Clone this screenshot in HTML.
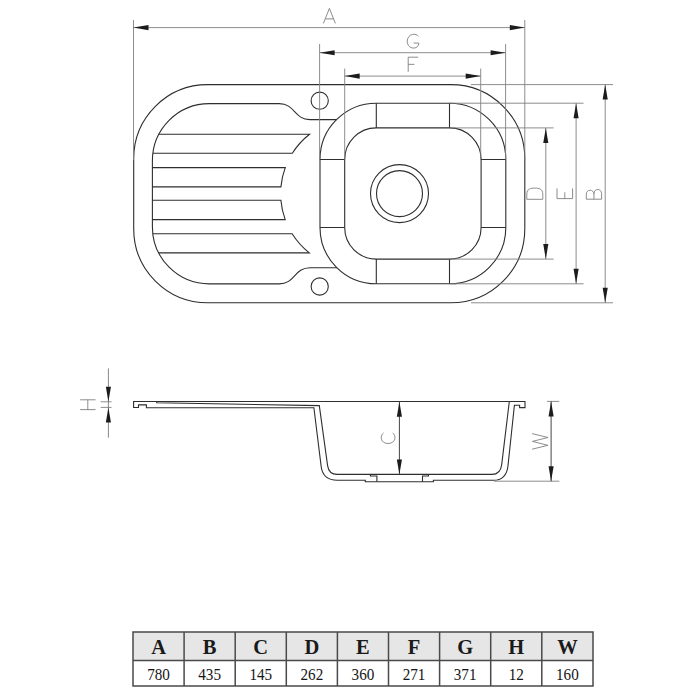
<!DOCTYPE html>
<html><head><meta charset="utf-8"><style>
html,body{margin:0;padding:0;background:#fff;width:700px;height:700px;overflow:hidden}
svg{display:block}
</style></head><body>
<svg width="700" height="700" viewBox="0 0 700 700">
<rect width="700" height="700" fill="#fff"/>
<path d="M207.7,84.6 L450.8,84.6 A74.0,74.0 0 0 1 524.8,158.6 L524.8,228.8 A74.0,74.0 0 0 1 450.8,302.8 L207.7,302.8 A74.0,74.0 0 0 1 133.7,228.8 L133.7,158.6 A74.0,74.0 0 0 1 207.7,84.6 Z" stroke="#2e2e2e" stroke-width="1.1" fill="none" />
<path d="M376.3,103.2 L449.5,103.2 A56.3,56.3 0 0 1 505.8,159.5 L505.8,227.5 A56.3,56.3 0 0 1 449.5,283.8 L376.3,283.8 A56.3,56.3 0 0 1 320,227.5 L320,159.5 A56.3,56.3 0 0 1 376.3,103.2 Z" stroke="#2e2e2e" stroke-width="1.1" fill="none" />
<path d="M376.3,127.9 L449.5,127.9 A31.6,31.6 0 0 1 481.1,159.5 L481.1,227.5 A31.6,31.6 0 0 1 449.5,259.1 L376.3,259.1 A31.6,31.6 0 0 1 344.7,227.5 L344.7,159.5 A31.6,31.6 0 0 1 376.3,127.9 Z" stroke="#2e2e2e" stroke-width="1.1" fill="none" />
<path d="M376.3,103.2 L376.3,127.9 M449.5,103.2 L449.5,127.9 M376.3,283.8 L376.3,259.1 M449.5,283.8 L449.5,259.1 M320,159.5 L344.7,159.5 M505.8,159.5 L481.1,159.5 M320,227.5 L344.7,227.5 M505.8,227.5 L481.1,227.5" stroke="#2e2e2e" stroke-width="1.1" fill="none" />
<circle cx="399.5" cy="193.6" r="29" stroke="#2e2e2e" stroke-width="1.1" fill="none"/>
<circle cx="399.5" cy="193.6" r="23" stroke="#2e2e2e" stroke-width="1.1" fill="none"/>
<path d="M336.58,119.6 L310,119.6 C294,119.6 295.2,103.6 279.2,103.6 L209.4,103.6 A57.0,57.0 0 0 0 152.4,160.6 L152.4,226.9 A57.0,57.0 0 0 0 209.4,283.9 L279.2,283.9 C295.2,283.9 294,267.8 310,267.8 L336.99,267.8" stroke="#2e2e2e" stroke-width="1.1" fill="none" />
<circle cx="319.7" cy="100.7" r="8.6" stroke="#2e2e2e" stroke-width="1.1" fill="none"/>
<circle cx="319.7" cy="286.5" r="8.6" stroke="#2e2e2e" stroke-width="1.1" fill="none"/>
<path d="M158.83,134.3 L309.56,134.3 A75.4,75.4 0 0 0 292.34,153.3 L152.87,153.3" stroke="#2e2e2e" stroke-width="1.1" fill="none" />
<path d="M152.4,167.6 L285.26,167.6 A75.4,75.4 0 0 0 280.91,186.9 L152.4,186.9" stroke="#2e2e2e" stroke-width="1.1" fill="none" />
<path d="M152.4,200.3 L280.89,200.3 A75.4,75.4 0 0 0 285.19,219.6 L152.4,219.6" stroke="#2e2e2e" stroke-width="1.1" fill="none" />
<path d="M152.82,233.8 L292.15,233.8 A75.4,75.4 0 0 0 309.3,252.9 L158.68,252.9" stroke="#2e2e2e" stroke-width="1.1" fill="none" />
<line x1="133.5" y1="20" x2="133.5" y2="160" stroke="#808080" stroke-width="0.9"/>
<line x1="524.8" y1="20" x2="524.8" y2="160" stroke="#808080" stroke-width="0.9"/>
<line x1="133.5" y1="27.6" x2="524.8" y2="27.6" stroke="#808080" stroke-width="0.9"/>
<path d="M133.5,27.6 L148.5,25.05 L148.5,30.15 Z" fill="#1c1c1c" stroke="none"/>
<path d="M524.8,27.6 L509.8,30.15 L509.8,25.05 Z" fill="#1c1c1c" stroke="none"/>
<line x1="319.6" y1="44" x2="319.6" y2="160" stroke="#808080" stroke-width="0.9"/>
<line x1="505.6" y1="44" x2="505.6" y2="159.5" stroke="#808080" stroke-width="0.9"/>
<line x1="319.6" y1="52.7" x2="505.6" y2="52.7" stroke="#808080" stroke-width="0.9"/>
<path d="M319.6,52.7 L334.6,50.15 L334.6,55.25 Z" fill="#1c1c1c" stroke="none"/>
<path d="M505.6,52.7 L490.6,55.25 L490.6,50.15 Z" fill="#1c1c1c" stroke="none"/>
<line x1="344.7" y1="68.6" x2="344.7" y2="159.5" stroke="#808080" stroke-width="0.9"/>
<line x1="480.7" y1="68.6" x2="480.7" y2="159.5" stroke="#808080" stroke-width="0.9"/>
<line x1="344.7" y1="76.1" x2="480.7" y2="76.1" stroke="#808080" stroke-width="0.9"/>
<path d="M344.7,76.1 L359.7,73.55 L359.7,78.65 Z" fill="#1c1c1c" stroke="none"/>
<path d="M480.7,76.1 L465.7,78.65 L465.7,73.55 Z" fill="#1c1c1c" stroke="none"/>
<line x1="471" y1="84.6" x2="613" y2="84.6" stroke="#808080" stroke-width="0.9"/>
<line x1="471" y1="302.8" x2="613" y2="302.8" stroke="#808080" stroke-width="0.9"/>
<line x1="605.2" y1="84.6" x2="605.2" y2="302.8" stroke="#808080" stroke-width="0.9"/>
<path d="M605.2,84.6 L607.75,99.6 L602.65,99.6 Z" fill="#1c1c1c" stroke="none"/>
<path d="M605.2,302.8 L602.65,287.8 L607.75,287.8 Z" fill="#1c1c1c" stroke="none"/>
<line x1="449.5" y1="103.2" x2="583.6" y2="103.2" stroke="#808080" stroke-width="0.9"/>
<line x1="449.5" y1="283.8" x2="583.6" y2="283.8" stroke="#808080" stroke-width="0.9"/>
<line x1="576.1" y1="103.2" x2="576.1" y2="283.8" stroke="#808080" stroke-width="0.9"/>
<path d="M576.1,103.2 L578.65,118.2 L573.55,118.2 Z" fill="#1c1c1c" stroke="none"/>
<path d="M576.1,283.8 L573.55,268.8 L578.65,268.8 Z" fill="#1c1c1c" stroke="none"/>
<line x1="449.5" y1="127.9" x2="553.6" y2="127.9" stroke="#808080" stroke-width="0.9"/>
<line x1="449.5" y1="259.1" x2="553.6" y2="259.1" stroke="#808080" stroke-width="0.9"/>
<line x1="545.8" y1="127.9" x2="545.8" y2="259.1" stroke="#808080" stroke-width="0.9"/>
<path d="M545.8,127.9 L548.35,142.9 L543.25,142.9 Z" fill="#1c1c1c" stroke="none"/>
<path d="M545.8,259.1 L543.25,244.1 L548.35,244.1 Z" fill="#1c1c1c" stroke="none"/>
<path transform="translate(323.4,8.4)" d="M0,15.0 L6.0,0 L12.0,15.0 M2.04,10.5 L9.959999999999999,10.5" stroke="#777777" stroke-width="0.85" fill="none" stroke-linejoin="round"/>
<path transform="translate(407.2,33.8)" d="M11.368,2.6180000000000003 C9.28,-0.77 0.58,-0.77 0,7.3919999999999995 C0,16.17 11.6,16.17 11.6,9.548 L11.6,9.24 L6.38,9.24" stroke="#777777" stroke-width="0.85" fill="none" stroke-linejoin="round"/>
<path transform="translate(408.2,57.2)" d="M10.0,0 L0,0 L0,14.6 M0,7.154 L6.2,7.154" stroke="#777777" stroke-width="0.85" fill="none" stroke-linejoin="round"/>
<path transform="translate(526.8,199.3) rotate(-90)" d="M0,0 L0,16.0 L5.04,16.0 C10.639999999999999,16.0 11.2,12.0 11.2,8.0 C11.2,4.0 10.639999999999999,0 5.04,0 Z" stroke="#777777" stroke-width="0.85" fill="none" stroke-linejoin="round"/>
<path transform="translate(557,198.6) rotate(-90)" d="M10.2,0 L0,0 L0,15.6 L10.2,15.6 M0,7.8 L6.324,7.8" stroke="#777777" stroke-width="0.85" fill="none" stroke-linejoin="round"/>
<path transform="translate(586.3,199.2) rotate(-90)" d="M0,0 L0,15.3 L5.55,15.3 C11.1,15.3 11.1,7.65 5.55,7.65 L0,7.65 M0,0 L4.995,0 C10.323,0 10.323,7.65 4.995,7.65" stroke="#777777" stroke-width="0.85" fill="none" stroke-linejoin="round"/>
<path d="M133.6,401.5 L525,401.5 L525,407.6 L519.6,407.6 L519.6,405.3 L514.4,405.3 L508,465.7 Q506.5,480.3 493.1,480.3 L433.4,480.3 L433.4,481.8 L365.3,481.8 L365.3,480.3 L337.3,480.3 Q323,480.3 321.2,466.8 L313.9,407.8 L146.4,407.6 L146.4,404.9 L138.5,404.9 L138.5,407.5 L133.6,407.5 Z" stroke="#2e2e2e" stroke-width="1.1" fill="none" />
<path d="M156.7,401.5 L156.7,402.8 L319.3,405.6 L327.6,465.6 Q328.8,474.4 337.3,474.4 L492,474.4 Q500.5,474.4 501.7,464.6 L509.3,401.5" stroke="#2e2e2e" stroke-width="1.1" fill="none" />
<path d="M370.4,474.4 L370.4,476 L376.9,476 L376.9,481.8 M422.5,481.8 L422.5,476 L428.5,476 L428.5,474.4" stroke="#2e2e2e" stroke-width="1.1" fill="none" />
<line x1="399.4" y1="401.7" x2="399.4" y2="474.4" stroke="#454545" stroke-width="1.0"/>
<path d="M399.4,401.7 L401.95,416.7 L396.85,416.7 Z" fill="#1c1c1c" stroke="none"/>
<path d="M399.4,474.4 L396.85,459.4 L401.95,459.4 Z" fill="#1c1c1c" stroke="none"/>
<path transform="translate(380.2,443.5) rotate(-90)" d="M10.509,3.318 C8.136000000000001,-0.474 0,0.0 0,7.9 C0,15.8 8.136000000000001,16.274 10.509,12.482000000000001" stroke="#777777" stroke-width="0.85" fill="none" stroke-linejoin="round"/>
<line x1="547" y1="401.4" x2="559.3" y2="401.4" stroke="#808080" stroke-width="0.9"/>
<line x1="494" y1="481.2" x2="559.3" y2="481.2" stroke="#808080" stroke-width="0.9"/>
<line x1="551.1" y1="401.4" x2="551.1" y2="481.2" stroke="#454545" stroke-width="1.0"/>
<path d="M551.1,401.4 L553.65,416.4 L548.55,416.4 Z" fill="#1c1c1c" stroke="none"/>
<path d="M551.1,481.2 L548.55,466.2 L553.65,466.2 Z" fill="#1c1c1c" stroke="none"/>
<path transform="translate(532.1,449.2) rotate(-90)" d="M0,0 L3.9,15.8 L7.8,0.316 L11.7,15.8 L15.6,0" stroke="#777777" stroke-width="0.85" fill="none" stroke-linejoin="round"/>
<line x1="108.4" y1="368.4" x2="108.4" y2="437.7" stroke="#7a7a7a" stroke-width="0.9"/>
<line x1="100.7" y1="401.8" x2="111.5" y2="401.8" stroke="#808080" stroke-width="0.9"/>
<line x1="100.7" y1="407.4" x2="111.5" y2="407.4" stroke="#808080" stroke-width="0.9"/>
<path d="M108.4,401.8 L105.85,386.8 L110.95,386.8 Z" fill="#1c1c1c" stroke="none"/>
<path d="M108.4,407.4 L110.95,422.4 L105.85,422.4 Z" fill="#1c1c1c" stroke="none"/>
<path transform="translate(80.1,409.6) rotate(-90)" d="M0,0 L0,15.4 M9.8,0 L9.8,15.4 M0,7.7 L9.8,7.7" stroke="#777777" stroke-width="0.85" fill="none" stroke-linejoin="round"/>
<rect x="133.0" y="632.1" width="460" height="28.3" fill="#e6e6e6"/>
<text x="158.55" y="653.6" text-anchor="middle" font-family="Liberation Serif" font-weight="bold" font-size="20.5" fill="#1a1a1a">A</text>
<text transform="translate(158.55,679.7) scale(0.93,1)" text-anchor="middle" font-family="Liberation Serif" font-size="16.3" fill="#151515">780</text>
<text x="209.65" y="653.6" text-anchor="middle" font-family="Liberation Serif" font-weight="bold" font-size="20.5" fill="#1a1a1a">B</text>
<text transform="translate(209.65,679.7) scale(0.93,1)" text-anchor="middle" font-family="Liberation Serif" font-size="16.3" fill="#151515">435</text>
<text x="260.75" y="653.6" text-anchor="middle" font-family="Liberation Serif" font-weight="bold" font-size="20.5" fill="#1a1a1a">C</text>
<text transform="translate(260.75,679.7) scale(0.93,1)" text-anchor="middle" font-family="Liberation Serif" font-size="16.3" fill="#151515">145</text>
<text x="311.85" y="653.6" text-anchor="middle" font-family="Liberation Serif" font-weight="bold" font-size="20.5" fill="#1a1a1a">D</text>
<text transform="translate(311.85,679.7) scale(0.93,1)" text-anchor="middle" font-family="Liberation Serif" font-size="16.3" fill="#151515">262</text>
<text x="362.95" y="653.6" text-anchor="middle" font-family="Liberation Serif" font-weight="bold" font-size="20.5" fill="#1a1a1a">E</text>
<text transform="translate(362.95,679.7) scale(0.93,1)" text-anchor="middle" font-family="Liberation Serif" font-size="16.3" fill="#151515">360</text>
<text x="414.05" y="653.6" text-anchor="middle" font-family="Liberation Serif" font-weight="bold" font-size="20.5" fill="#1a1a1a">F</text>
<text transform="translate(414.05,679.7) scale(0.93,1)" text-anchor="middle" font-family="Liberation Serif" font-size="16.3" fill="#151515">271</text>
<text x="465.15" y="653.6" text-anchor="middle" font-family="Liberation Serif" font-weight="bold" font-size="20.5" fill="#1a1a1a">G</text>
<text transform="translate(465.15,679.7) scale(0.93,1)" text-anchor="middle" font-family="Liberation Serif" font-size="16.3" fill="#151515">371</text>
<text x="516.25" y="653.6" text-anchor="middle" font-family="Liberation Serif" font-weight="bold" font-size="20.5" fill="#1a1a1a">H</text>
<text transform="translate(516.25,679.7) scale(0.93,1)" text-anchor="middle" font-family="Liberation Serif" font-size="16.3" fill="#151515">12</text>
<text x="567.4" y="653.6" text-anchor="middle" font-family="Liberation Serif" font-weight="bold" font-size="20.5" fill="#1a1a1a">W</text>
<text transform="translate(567.4,679.7) scale(0.93,1)" text-anchor="middle" font-family="Liberation Serif" font-size="16.3" fill="#151515">160</text>
<path d="M133.0,632.1 L593.0,632.1 M133.0,660.4 L593.0,660.4 M133.0,686.1 L593.0,686.1 M133.0,632.1 L133.0,686.1 M184.1,632.1 L184.1,686.1 M235.2,632.1 L235.2,686.1 M286.3,632.1 L286.3,686.1 M337.4,632.1 L337.4,686.1 M388.5,632.1 L388.5,686.1 M439.6,632.1 L439.6,686.1 M490.7,632.1 L490.7,686.1 M541.8,632.1 L541.8,686.1 M593.0,632.1 L593.0,686.1 " stroke="#4a4a4a" stroke-width="1.5" fill="none" stroke-linecap="square"/>
</svg>
</body></html>
